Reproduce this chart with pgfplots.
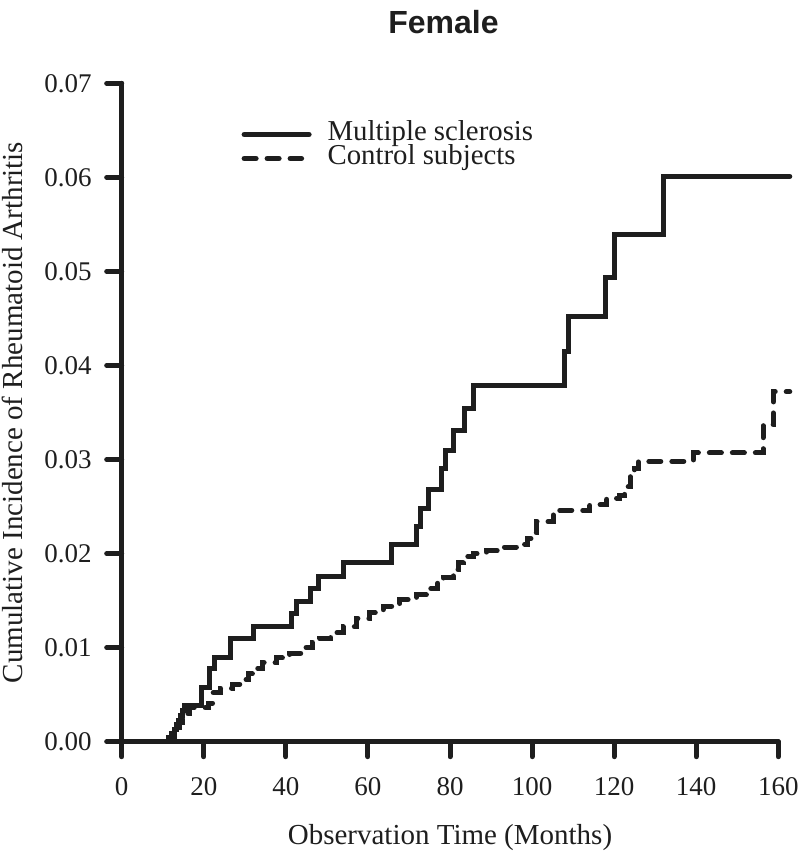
\documentclass[border=0pt]{standalone}
\usepackage{pgfplots}
\pgfplotsset{compat=1.18}
\usepackage{fontspec}
\setmainfont{Liberation Serif}
\newfontfamily\sansf{Liberation Sans}
\definecolor{ink}{HTML}{1E1E1E}
\pgfplotsset{
  legsolid/.style={legend image code/.code={\draw[##1] (1.25pt,0pt) -- (33.75pt,0pt);}},
  legdash/.style={legend image code/.code={\draw[##1] (1.25pt,0pt) -- (30pt,0pt);}},
}

% Kaplan-Meier style cumulative incidence
\pgfplotstableread{
t v
11.0 0.0000
11.5 0.0004
12.2 0.0009
12.8 0.0013
13.3 0.0018
13.8 0.0023
14.3 0.0028
14.8 0.0033
15.2 0.0038
19.5 0.0058
21.5 0.0078
22.7 0.0089
26.4 0.0110
32.1 0.0122
41.4 0.0136
42.5 0.0149
45.9 0.0163
47.9 0.0176
54.0 0.0191
65.8 0.0210
71.9 0.0229
72.7 0.0248
74.7 0.0268
78.0 0.0290
78.8 0.0310
80.8 0.0331
83.6 0.0354
85.7 0.0379
108.0 0.0415
108.8 0.0452
117.8 0.0494
120.2 0.0539
132.0 0.0601
162.8 0.0601
}\ms

\pgfplotstableread{
t v
11.8 0.0000
12.3 0.0005
12.9 0.0010
13.5 0.0015
14.1 0.0020
14.8 0.0025
15.5 0.0030
16.4 0.0036
21.1 0.0041
22.2 0.0052
24.0 0.0057
27.1 0.0061
29.6 0.0066
31.0 0.0072
32.0 0.0078
34.4 0.0084
37.8 0.0089
41.0 0.0094
44.2 0.0100
46.4 0.0106
48.3 0.0110
51.0 0.0116
54.0 0.0122
57.3 0.0131
60.5 0.0137
63.7 0.0144
67.8 0.0151
71.9 0.0156
75.1 0.0163
77.0 0.0169
78.4 0.0175
80.8 0.0183
82.0 0.0190
83.2 0.0197
85.7 0.0200
88.9 0.0203
92.2 0.0207
97.1 0.0210
98.8 0.0216
100.2 0.0222
101.1 0.0234
105.2 0.0246
114.1 0.0252
118.2 0.0259
121.4 0.0262
122.6 0.0271
123.9 0.0282
124.9 0.0290
125.9 0.0298
139.3 0.0307
156.3 0.0337
158.8 0.0372
162.8 0.0372
}\ctrl

\begin{document}
\begin{tikzpicture}
\begin{axis}[scale only axis,width=328.3pt,height=329.2pt,
  xmin=0,xmax=160,ymin=0,ymax=0.07,clip=false,
  axis x line*=bottom,axis y line*=left,
  axis line style={ink,line width=2.5pt,line cap=round},
  xtick={0,20,...,160},ytick={0,0.01,...,0.07},
  scaled y ticks=false,
  /pgf/number format/assume math mode=true,
  tick align=outside,major tick length=7.5pt,
  tick style={ink,line width=2.5pt,line cap=round},
  tick label style={font=\fontsize{13.5}{14}\selectfont,text=ink},
  xticklabel style={yshift=-7pt},
  yticklabel style={xshift=-4pt,/pgf/number format/.cd,fixed,fixed zerofill,precision=2},
  xlabel={Observation Time (Months)},
  ylabel={Cumulative Incidence of Rheumatoid Arthritis},
  label style={font=\fontsize{14.5}{15}\selectfont,text=ink},
  xlabel style={at={(rel axis cs:0.5,-0.146)},anchor=center},
  ylabel style={at={(rel axis cs:-0.167,0.50)},anchor=center},
  title={Female},
  every axis title shift=0pt,
  title style={at={(rel axis cs:0.49,1.093)},anchor=center,font=\sansf\bfseries\fontsize{16}{17}\selectfont,text=ink},
  legend style={draw=none,fill=none,at={(rel axis cs:0.182,0.941)},anchor=north west,
    font=\fontsize{14.4}{14}\selectfont,row sep=0pt,column sep=7pt,inner sep=0pt,
    nodes={inner sep=1pt,text height=8pt,text depth=2pt,text=ink}},
  legend cell align=left,
]
\addplot[ink,line width=2.5pt,const plot mark left,line cap=round,legsolid]
  table[x=t,y=v] {\ms};
\addlegendentry{Multiple sclerosis}
\addplot[ink,line width=2.5pt,const plot mark left,line cap=round,dash pattern=on 6pt off 5.5pt,legdash]
  table[x=t,y=v] {\ctrl};
\addlegendentry{Control subjects}
\end{axis}
\pgfresetboundingbox
\useasboundingbox (-60.85pt,-54.65pt) rectangle (339.15pt,370.85pt);
\end{tikzpicture}
\end{document}
